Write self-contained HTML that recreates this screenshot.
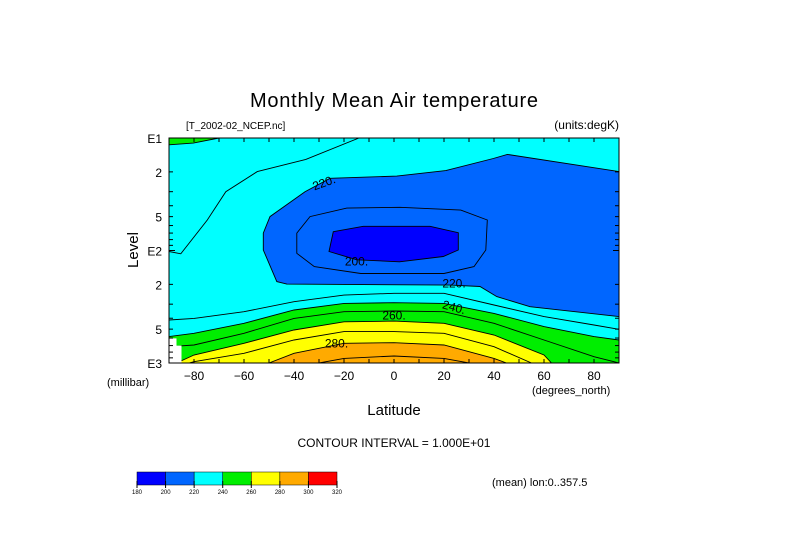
<!DOCTYPE html>
<html><head><meta charset="utf-8"><style>
body{margin:0;background:#fff;}
svg{display:block;font-family:"Liberation Sans",sans-serif;}
</style></head><body>
<svg id="chart" width="789" height="558" viewBox="0 0 789 558">
<rect width="789" height="558" fill="#fff"/>
<text x="394" y="107" font-size="20" text-anchor="middle" fill="#000" textLength="288">Monthly Mean Air temperature</text>
<text x="186" y="129" font-size="10" fill="#000">[T_2002-02_NCEP.nc]</text>
<text x="619" y="129" font-size="12" text-anchor="end" fill="#000">(units:degK)</text>
<g id="plot"></g>
<g id="axes"></g>
<text x="107" y="386" font-size="11" fill="#000">(millibar)</text>
<text x="532" y="394" font-size="11" fill="#000">(degrees_north)</text>
<text x="394" y="415" font-size="15" text-anchor="middle" fill="#000">Latitude</text>
<text x="138" y="250" font-size="15" text-anchor="middle" fill="#000" transform="rotate(-90 138 250)">Level</text>
<text x="394" y="447" font-size="12" text-anchor="middle" fill="#000">CONTOUR INTERVAL = 1.000E+01</text>
<g id="cbar"></g>
<text x="492" y="486" font-size="11" fill="#000">(mean) lon:0..357.5</text>
</svg>
<script>
// ---- data ----
const cbarLevels=[180,200,220,240,260,280,300,320];
const cbarColors=["#0000ff","#0066ff","#00ffff","#00ee00","#ffff00","#ffaa00","#ff0000"];
const xTicks=[-80,-60,-40,-20,0,20,40,60,80];
const yMajor=[10,100,1000];
const yMajorLabels=["E1","E2","E3"];
const yMinorLabelVals=[20,50,200,500];
const yMinorLabels=["2","5","2","5"];
// upper contours (closed), lat / pressure
const c220Lat=[90,45.3,39.7,20.7,1.1,-25.6,-35.6,-49.6,-52.3,-52.3,-46.9,-42.9,22.4,34.4,41.1,54.4,90];
const c220P=[19.9,14,15.2,19.5,21.8,22.8,30,50,70,99,189,199,203,209,257,316,387];
const c210Lat=[-38.9,-33.6,-18.9,2.4,26.7,37.3,36.7,32,20,-13.3,-31.9,-38.9];
const c210P=[70,50,42,41.3,43.7,53.6,99,139,160,160,139,106];
const c200Lat=[-24.3,-12.3,14.4,25.7,25.7,19.7,2.2,-14.9,-26];
const c200P=[68,61,61,69.5,99,113,126,121,102];
const c230uLat=[-90,-85.3,-74.7,-67.3,-54.7,-35.3,-14];
const c230uP=[102,107,53.6,30,19.9,15.5,10];
const c240topLat=[-90,-80.3,-70];
const c240topP=[11.5,11.1,10];
// lower contours
const c230Lat=[-90,-80,-60,-40,-20,0,20,40,60,80,90];
const c230P=[415,401,350,285,249,240,240,305,387,459,502];
const c240Lat=[-90,-80,-60,-40,-20,0,20,40,60,80,90];
const c240P=[583,544,444,338,295,291,295,362,475,583,625];
const c250Lat=[-90,-80,-60,-40,-20,0,20,40,60,80,90];
const c250P=[716,692,544,401,350,345,350,444,625,879,1000];
const c260Lat=[-87,-80,-60,-40,-20,0,20,40,60,63];
const c260P=[1000,849,668,509,430,424,444,564,849,1000];
const c270Lat=[-82,-80,-60,-40,-20,0,20,40,55];
const c270P=[1000,973,820,625,526,526,544,716,1000];
const c280Lat=[-50,-40,-20,0,20,40,45];
const c280P=[1000,820,668,660,692,910,1000];
const c290Lat=[-30,-20,0,20,30];
const c290P=[1000,910,867,910,1000];
const missLat=[-90,-87,-87,-85,-85,-90];
const missP=[604,604,700,700,1000,1000];
const labelText=["220.","200.","220.","240.","260.","280."];
const labelLat=[-28,-15,24,24,0,-23];
const labelP=[25,125,197,320,380,670];
const labelRot=[-20,0,0,15,0,0];

// ---- axes functions ----
const X0=169,X1=619,Y0=138,Y1=363;
const xs=lat=>X0+(lat+90)/180*(X1-X0);
const ys=p=>Y0+(Math.log10(p)-1)/2*(Y1-Y0);
const NS="http://www.w3.org/2000/svg";
function mk(tag,attrs,parent){const e=document.createElementNS(NS,tag);for(const k in attrs)e.setAttribute(k,attrs[k]);parent.appendChild(e);return e;}
const plot=document.getElementById('plot');
const axes=document.getElementById('axes');
function pts(la,pa){return la.map((l,i)=>xs(l).toFixed(1)+","+ys(pa[i]).toFixed(1));}

mk('defs',{},plot).innerHTML='<clipPath id="clip"><rect x="169" y="138" width="450" height="225"/></clipPath>';
const g=mk('g',{'clip-path':'url(#clip)'},plot);
let r=mk('rect',{x:X0,y:Y0,width:X1-X0,height:Y1-Y0,fill:cbarColors[2]},g);



function fillPoly(la,pa,col,name){
  const e=mk('polygon',{points:pts(la,pa).join(' '),fill:col,stroke:'#000','stroke-width':'0.9'},g);
  
  
}
function fillBottom(la,pa,col,name,closeEnds){
  const p=pts(la,pa);
  p.push(xs(la[la.length-1])+","+(Y1+5));p.push(xs(la[0])+","+(Y1+5));
  const e=mk('polygon',{points:p.join(' '),fill:col,stroke:'none'},g);
  
  
  line(la,pa,name+'-line');
}
function line(la,pa,name){
  const e=mk('polyline',{points:pts(la,pa).join(' '),fill:'none',stroke:'#000','stroke-width':'0.9'},g);
  
  
}
// top-left green
{const p=pts(c240topLat,c240topP);p.push(xs(-70)+","+(Y0-3));p.push(xs(-90)+","+(Y0-3));
 const e=mk('polygon',{points:p.join(' '),fill:cbarColors[3],stroke:'none'},g);
 
 
 line(c240topLat,c240topP,'contour-240-top');}
fillPoly(c220Lat,c220P,cbarColors[1],'band-200-220');
fillPoly(c210Lat,c210P,'none','contour-210');
fillPoly(c200Lat,c200P,cbarColors[0],'band-180-200');
line(c230uLat,c230uP,'contour-230-upper');
line(c230Lat,c230P,'contour-230-lower');
fillBottom(c240Lat,c240P,cbarColors[3],'band-240-260');
line(c250Lat,c250P,'contour-250');
fillBottom(c260Lat,c260P,cbarColors[4],'band-260-280');
line(c270Lat,c270P,'contour-270');
fillBottom(c280Lat,c280P,cbarColors[5],'band-280-300');
line(c290Lat,c290P,'contour-290');
{const e=mk('polygon',{points:pts(missLat,missP).join(' '),fill:'#fff'},g);
 
 }
labelText.forEach((t,i)=>{
  const x=xs(labelLat[i]),y=ys(labelP[i]);
  const e=mk('text',{x:x,y:y+4,'font-size':'12','text-anchor':'middle',transform:`rotate(${labelRot[i]} ${x} ${y})`},g);
  e.textContent=t;
  
  
});
// frame
{const e=mk('rect',{x:X0,y:Y0,width:X1-X0,height:Y1-Y0,fill:'none',stroke:'#000','stroke-width':'1'},axes);
 
 }
for(let lat=-80;lat<=80;lat+=10){
  const x=xs(lat);
  mk('line',{x1:x,x2:x,y1:Y1,y2:Y1-4,stroke:'#000'},axes);
  mk('line',{x1:x,x2:x,y1:Y0,y2:Y0+4,stroke:'#000'},axes);
}
xTicks.forEach(v=>{
  const e=mk('text',{x:xs(v),y:380,'font-size':'12','text-anchor':'middle'},axes);
  e.textContent=v===0?"0":(v<0?"\u2212"+(-v):String(v));
  
  
});
for(let d=10;d<1000;d*=10){for(let k=1;k<10;k++){const p=d*k;const y=ys(p);const L=k===1?6:4;
  mk('line',{x1:X0,x2:X0+L,y1:y,y2:y,stroke:'#000'},axes);
  mk('line',{x1:X1,x2:X1-L,y1:y,y2:y,stroke:'#000'},axes);}}
yMajor.forEach((p,i)=>{const e=mk('text',{x:162,y:ys(p)+5,'font-size':'12','text-anchor':'end'},axes);e.textContent=yMajorLabels[i];
  
  });
yMinorLabelVals.forEach((p,i)=>{const e=mk('text',{x:162,y:ys(p)+5,'font-size':'12','text-anchor':'end'},axes);e.textContent=yMinorLabels[i];
  
  });
// colorbar
const cb=document.getElementById('cbar');
const CB0=137,CB1=337,CBW=(CB1-CB0)/cbarColors.length;
cbarColors.forEach((c,i)=>{
  const e=mk('rect',{x:CB0+i*CBW,y:472,width:CBW,height:13,fill:c,stroke:'#000','stroke-width':'0.5'},cb);
  
  
});
cbarLevels.forEach((v,i)=>{
  const x=CB0+i*CBW;
  mk('line',{x1:x,x2:x,y1:481,y2:488,stroke:'#000'},cb);
  const e=mk('text',{x:x,y:494,'font-size':'6','text-anchor':'middle'},cb);
  e.textContent=v;
  
  
});
</script>
</body></html>
